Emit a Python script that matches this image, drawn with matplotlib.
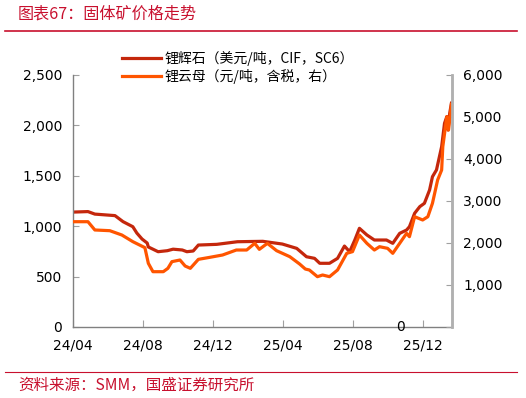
import numpy as np
import pandas as pd
import matplotlib
matplotlib.use('Agg')
import matplotlib.pyplot as plt

plt.rcParams['font.family'] = ['Noto Sans CJK SC', 'DejaVu Sans']

# 锂辉石 (USD/t, CIF, SC6) - left axis
spod_dates = ['2024-04-01', '2024-04-27', '2024-05-09', '2024-06-13', '2024-06-27',
              '2024-07-14', '2024-07-21', '2024-07-30', '2024-08-08', '2024-08-10',
              '2024-08-27', '2024-09-12', '2024-09-22', '2024-10-08', '2024-10-16',
              '2024-10-27', '2024-11-05', '2024-12-07', '2025-01-12', '2025-02-25',
              '2025-03-31', '2025-04-25', '2025-05-12', '2025-05-26', '2025-06-04',
              '2025-06-21', '2025-07-05', '2025-07-17', '2025-07-26', '2025-08-04',
              '2025-08-12', '2025-08-25', '2025-09-07', '2025-09-28', '2025-10-09',
              '2025-10-21', '2025-11-02', '2025-11-07', '2025-11-16', '2025-11-25',
              '2025-12-03', '2025-12-12', '2025-12-17', '2025-12-24', '2026-01-02',
              '2026-01-07', '2026-01-11', '2026-01-13', '2026-01-16', '2026-01-19']
spod_values = [1140, 1145, 1120, 1105, 1045,
               995, 932, 873, 833, 794,
               747, 757, 772, 764, 747,
               754, 813, 820, 846, 850,
               823, 780, 697, 681, 632,
               632, 681, 803, 747, 863,
               979, 913, 863, 863, 830,
               929, 962, 995, 1128, 1194,
               1227, 1359, 1491, 1558, 1789,
               2021, 2087, 1954, 2120, 2220]

# 锂云母 (CNY/t, tax incl.) - right axis
lepi_dates = ['2024-04-01', '2024-04-27', '2024-05-09', '2024-06-04', '2024-06-25',
              '2024-07-14', '2024-08-04', '2024-08-10', '2024-08-18', '2024-09-05',
              '2024-09-13', '2024-09-20', '2024-10-04', '2024-10-13', '2024-10-22',
              '2024-11-05', '2024-11-25', '2024-12-17', '2025-01-10', '2025-01-28',
              '2025-02-11', '2025-02-19', '2025-03-05', '2025-03-21', '2025-04-13',
              '2025-04-30', '2025-05-10', '2025-05-17', '2025-05-31', '2025-06-09',
              '2025-06-21', '2025-07-05', '2025-07-21', '2025-07-31', '2025-08-12',
              '2025-08-25', '2025-09-07', '2025-09-16', '2025-09-30', '2025-10-09',
              '2025-10-21', '2025-11-02', '2025-11-07', '2025-11-16', '2025-11-30',
              '2025-12-09', '2025-12-17', '2025-12-26', '2026-01-02', '2026-01-04',
              '2026-01-11', '2026-01-14', '2026-01-19']
lepi_values = [2507, 2507, 2310, 2293, 2190,
               2032, 1889, 1516, 1317, 1317,
               1397, 1556, 1595, 1452, 1397,
               1611, 1659, 1714, 1833, 1833,
               1992, 1849, 1992, 1817, 1674,
               1500, 1380, 1357, 1198, 1238,
               1198, 1357, 1754, 1794, 2190,
               1992, 1833, 1912, 1873, 1754,
               1992, 2230, 2150, 2626, 2548,
               2626, 2945, 3500, 3738, 4293,
               5007, 4690, 5300]

tick_dates = ['2024-04-01', '2024-08-01', '2024-12-01', '2025-04-01', '2025-08-01', '2025-12-01']
tick_labels = ['24/04', '24/08', '24/12', '25/04', '25/08', '25/12']

spod_label = '锂辉石（美元/吨，CIF，SC6）'
lepi_label = '锂云母（元/吨，含税，右）'
title = '图表67：固体矿价格走势'
source = '资料来源：SMM，国盛证券研究所'

c_spod = '#C4270C'
c_lepi = '#FF5500'
red = '#C8102E'

fig = plt.figure(figsize=(5.26, 3.98), dpi=100)
ax = fig.add_axes([73 / 526, 1 - 327 / 398, (452 - 73) / 526, (327 - 75) / 398])
ax2 = ax.twinx()

l1, = ax.plot(pd.to_datetime(spod_dates), spod_values, color=c_spod, lw=2.3, label=spod_label)
l2, = ax2.plot(pd.to_datetime(lepi_dates), lepi_values, color=c_lepi, lw=2.3, label=lepi_label)

ax.set_ylim(0, 2500)
ax.set_yticks(np.arange(0, 2501, 500))
ax.set_yticklabels([f'{v:,}' for v in range(0, 2501, 500)])
ax2.set_ylim(0, 6000)
ax2.set_yticks(np.arange(0, 6001, 1000))
ax2.set_yticklabels([''] + [f'{v:,}' for v in range(1000, 6001, 1000)])

ax.set_xlim(pd.Timestamp('2024-04-01'), pd.Timestamp('2026-01-20'))
ax.set_xticks(pd.to_datetime(tick_dates))
ax.set_xticklabels(tick_labels)

for a in (ax, ax2):
    a.spines['top'].set_visible(False)
    for s in a.spines.values():
        s.set_color('#808080')
        s.set_linewidth(1)
ax2.spines['right'].set_color('#b0b0b0')
ax2.spines['right'].set_linewidth(2)
ax2.spines['left'].set_visible(False)
ax2.spines['bottom'].set_visible(False)

ax.tick_params(axis='y', direction='in', length=4, color='#a0a0a0', labelsize=10, pad=8)
ax.tick_params(axis='x', direction='in', length=5, color='#a0a0a0', labelsize=10, pad=8)
ax2.tick_params(axis='y', direction='in', length=4, color='#a0a0a0', labelsize=10, pad=8)
for lab in ax.get_xticklabels() + ax.get_yticklabels() + ax2.get_yticklabels():
    lab.set_family('DejaVu Sans')

# stray right-axis zero label
ax.text(0.863, 0, '0', transform=ax.transAxes, ha='center', va='center',
        fontsize=10, family='DejaVu Sans', color='black')

fig.legend(handles=[l1, l2], loc='upper left', bbox_to_anchor=(115 / 526, 1 - 44 / 398),
           frameon=False, fontsize=10, handlelength=2.8, labelspacing=0.2,
           borderpad=0, handletextpad=0.3)

fig.text(18 / 526, 1 - 14 / 398, title, color=red, fontsize=11.6, va='center', ha='left')
fig.add_artist(plt.Line2D([5 / 526, 517 / 526], [1 - 31 / 398] * 2, color=red, lw=1.2))
fig.add_artist(plt.Line2D([5 / 526, 517 / 526], [1 - 372 / 398] * 2, color=red, lw=0.8))
fig.text(18 / 526, 1 - 385 / 398, source, color=red, fontsize=11.2, va='center', ha='left')

fig.savefig('out.png', dpi=100)
